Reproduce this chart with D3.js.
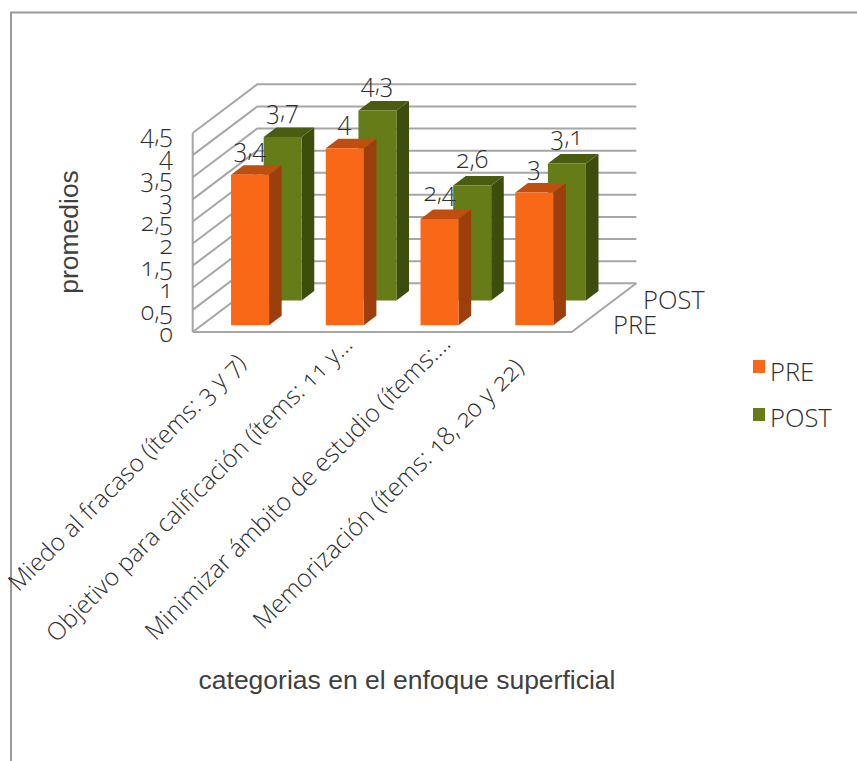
<!DOCTYPE html>
<html><head><meta charset="utf-8">
<script src="https://cdn.jsdelivr.net/npm/d3@7"></script>
<style>
html,body{margin:0;padding:0;background:#fff}
svg{display:block}
.c{font-family:"Open Sans","Noto Sans",sans-serif;font-weight:300;font-variant-numeric:oldstyle-nums;font-feature-settings:"onum";fill:#2e2e2e}
.a{font-family:"Liberation Sans",Arial,sans-serif;fill:#404040}
</style></head><body>
<script>
const categories=["Miedo al fracaso (ítems: 3 y 7)","Objetivo para calificación (ítems: 11 y…","Minimizar ámbito de estudio (ítems:…","Memorización (ítems: 18, 20 y 22)"];
const seriesNames=["PRE","POST"];
const preValues=[3.4,4,2.4,3];
const postValues=[3.7,4.3,2.6,3.1];
const yTicks=d3.range(0,4.51,0.5);
const preColors={front:"#f96816",top:"#bf4e0f",side:"#9b3f0c"};
const postColors={front:"#667c18",top:"#4a5c10",side:"#3d4d0c"};
const comma=v=>String(v).replace(".",",");

const W=857,H=761;
const svg=d3.select("body").append("svg").attr("width",W).attr("height",H);
svg.append("path").attr("d","M11,761V12.5H857").attr("fill","none").attr("stroke","#9a9a9a").attr("stroke-width",2);

const frontX0=192.7, frontW=379, floorY=332;
const x=d3.scaleBand().domain(categories).range([frontX0,frontX0+frontW]);
const y=d3.scaleLinear().domain([0,4.5]).range([0,199]);
const DX=64.6,DY=-48.7;
const P=(px,val,d)=>[px+DX*d,floorY-y(val)+DY*d];
const line=d3.line();

const g=svg.append("g");
yTicks.forEach(t=>{
  g.append("path").attr("d",line([P(frontX0,t,0),P(frontX0,t,1),P(frontX0+frontW,t,1)]))
   .attr("fill","none").attr("stroke","#a6a6a6").attr("stroke-width",2);
});
g.append("path").attr("d",line([P(frontX0,0,0),P(frontX0,4.5,0)])).attr("stroke","#a6a6a6").attr("stroke-width",2);
g.append("path").attr("d",line([P(frontX0,0,0),P(frontX0+frontW,0,0),P(frontX0+frontW,0,1)])).attr("fill","none").attr("stroke","#a6a6a6").attr("stroke-width",2);

const barW=38, barDepth=0.195, barInset=29.3;
const seriesDepth={PRE:0.14,POST:0.645};
function bar(cat,val,name,col){
  const d0=seriesDepth[name], d1=d0+barDepth;
  const x0=x(cat)+barInset, x1=x0+barW;
  const b=svg.append("g");
  const poly=(pts,f)=>b.append("polygon").attr("points",pts.map(p=>p.join(",")).join(" ")).attr("fill",f);
  poly([P(x1,0,d0),P(x1,0,d1),P(x1,val,d1),P(x1,val,d0)],col.side);
  poly([P(x0,val,d0),P(x1,val,d0),P(x1,val,d1),P(x0,val,d1)],col.top);
  poly([P(x0,0,d0),P(x1,0,d0),P(x1,val,d0),P(x0,val,d0)],col.front);
  return P(x0+barW/2,val,d0);
}
const labels=[];
categories.forEach((c,i)=>{ labels.push({p:bar(c,postValues[i],"POST",postColors),v:postValues[i]}); });
categories.forEach((c,i)=>{ labels.push({p:bar(c,preValues[i],"PRE",preColors),v:preValues[i]}); });

labels.forEach(l=>{
  svg.append("text").attr("class","c").attr("x",l.p[0]).attr("y",l.p[1]-18).attr("text-anchor","middle").attr("font-size",25).text(comma(l.v));
});
yTicks.forEach(t=>{
  svg.append("text").attr("class","c").attr("x",173).attr("y",floorY-y(t)+10).attr("text-anchor","end").attr("font-size",25).text(comma(t));
});
svg.append("text").attr("class","c").attr("x",613).attr("y",334).attr("font-size",25.5).text("PRE");
svg.append("text").attr("class","c").attr("x",643).attr("y",309).attr("font-size",25.5).text("POST");

categories.forEach((c,i)=>{
  const px=[247,354,452,525][i], py=[364,346,345,369][i], fs=[24.5,24.5,25,25][i];
  svg.append("text").attr("class","c").attr("transform",`translate(${px},${py}) rotate(-45)`).attr("text-anchor","end").attr("font-size",fs).text(c);
});

[["PRE",preColors.front,360,381],["POST",postColors.front,408,427]].forEach(d=>{
  svg.append("rect").attr("x",753).attr("y",d[2]).attr("width",12).attr("height",13).attr("fill",d[1]);
  svg.append("text").attr("class","c").attr("x",770).attr("y",d[3]).attr("font-size",25.5).text(d[0]);
});

svg.append("text").attr("class","a").attr("transform","translate(78,232) rotate(-90)").attr("text-anchor","middle").attr("font-size",26.5).text("promedios");
svg.append("text").attr("class","a").attr("x",407).attr("y",689).attr("text-anchor","middle").attr("font-size",26.5).text("categorias en el enfoque superficial");
</script>
</body></html>
